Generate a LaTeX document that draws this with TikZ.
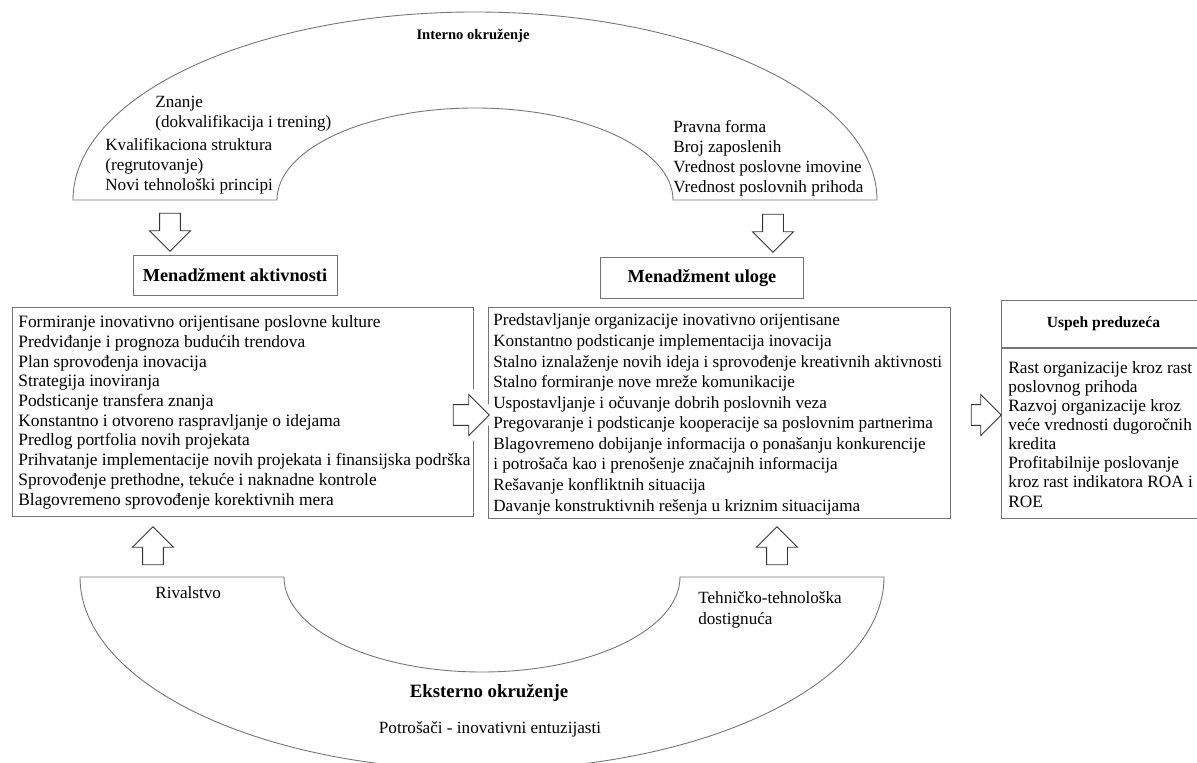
\documentclass[tikz,border=0pt]{standalone}
\usepackage{fontspec}
\setmainfont{Liberation Serif}
\usetikzlibrary{
  shapes.arrows,
  positioning
}
\tikzset{
  line/.style={draw=black!55, line width=0.5pt},
  plain/.style={font=\fontsize{9.75}{11.5}\selectfont, inner sep=0pt, align=left},
  bold/.style={font=\bfseries\fontsize{10.4}{12}\selectfont, inner sep=0pt},
  listbox/.style={line, anchor=north west, inner sep=0pt},
  headbox/.style={line, bold, minimum width=4.08cm, minimum height=0.8cm},
  blockarrow/.style={single arrow, draw=black!80, fill=white, line width=0.5pt,
    inner sep=0pt, text height=0.2cm, text depth=0.2cm,
    single arrow head extend=0.2cm, minimum height=0.76cm}
}

\begin{document}
\begin{tikzpicture}[x=0.02cm, y=-0.02cm]
    \useasboundingbox (0,0) rectangle (1197,763);

    % inner environment (top half ring)
    \draw[line] (73,200) arc[start angle=180, end angle=360, x radius=402, y radius=188]
      -- (673,200) arc[start angle=0, end angle=-180, x radius=198, y radius=92] -- cycle;
    \node[bold, font=\bfseries\fontsize{8.3}{10}\selectfont, anchor=base] (intern) at (473,40) {Interno okruženje};
    \node[plain, anchor=base west] (znanje) at (155,128) {Znanje\\(dokvalifikacija i trening)};
    \node[plain, anchor=base west] (kadar) at (105,191) {Kvalifikaciona struktura\\(regrutovanje)\\Novi tehnološki principi};
    \node[plain, anchor=base west] (forma) at (673,193) {Pravna forma\\Broj zaposlenih\\Vrednost poslovne imovine\\Vrednost poslovnih prihoda};

    % external environment (bottom half ring)
    \draw[line] (80,577) arc[start angle=180, end angle=0, x radius=402, y radius=193]
      -- (680,577) arc[start angle=0, end angle=180, x radius=198, y radius=95] -- cycle;
    \node[plain, anchor=base west] (rival) at (155,598) {Rivalstvo};
    \node[plain, anchor=base west] (tehno) at (698,624) {Tehničko-tehnološka\\dostignuća};
    \node[bold, font=\bfseries\fontsize{10.7}{12}\selectfont, anchor=base] (ekstern) at (489,697) {Eksterno okruženje};
    \node[plain, anchor=base] (potr) at (490,733) {Potrošači - inovativni entuzijasti};

    % headings
    \node[headbox] (akthead) at (235,275) {Menadžment aktivnosti};
    \node[headbox, minimum width=4.06cm, minimum height=0.82cm] (ulhead) at (702,278) {Menadžment uloge};

    % frames of the lists
    \node[listbox, minimum width=9.22cm, minimum height=4.18cm] (aktbox) at (12,307) {};
    \node[listbox, minimum width=9.24cm, minimum height=4.22cm] (ulbox) at (488,307) {};
    \node[line, anchor=north west, minimum width=4.08cm, minimum height=0.94cm,
      font=\bfseries\fontsize{8.85}{10}\selectfont] (uspeh) at (1001,300) {Uspeh preduzeća};
    \node[listbox, anchor=north, below=0pt of uspeh, minimum width=4.08cm, minimum height=3.4cm] (uspbox) {};

    % block arrows
    \node[blockarrow, rotate=-90] (down1) at (170,227) {};
    \node[blockarrow, rotate=-90] (down2) at (773,228) {};
    \node[blockarrow, minimum height=0.72cm, preaction={draw=white, line width=8pt}] (right1) at (466,415) {};
    \node[blockarrow, minimum height=0.6cm] (right2) at (981,415) {};
    \node[blockarrow, rotate=90] (up1) at (153,551) {};
    \node[blockarrow, rotate=90] (up2) at (777,551) {};

    % list texts
    \node[plain, anchor=base west, font=\fontsize{9.9}{11.2}\selectfont] (aktlist) at (18,505) {%
      Formiranje inovativno orijentisane poslovne kulture\\
      Predviđanje i prognoza budućih trendova\\
      Plan sprovođenja inovacija\\
      Strategija inoviranja\\
      Podsticanje transfera znanja\\
      Konstantno i otvoreno raspravljanje o idejama\\
      Predlog portfolia novih projekata\\
      Prihvatanje implementacije novih projekata i finansijska podrška\\
      Sprovođenje prethodne, tekuće i naknadne kontrole\\
      Blagovremeno sprovođenje korektivnih mera};
    \node[plain, anchor=base west, font=\fontsize{9.75}{11.7}\selectfont] (ullist) at (493,511) {%
      Predstavljanje organizacije inovativno orijentisane\\
      Konstantno podsticanje implementacija inovacija\\
      Stalno iznalaženje novih ideja i sprovođenje kreativnih aktivnosti\\
      Stalno formiranje nove mreže komunikacije\\
      Uspostavljanje i očuvanje dobrih poslovnih veza\\
      Pregovaranje i podsticanje kooperacije sa poslovnim partnerima\\
      Blagovremeno dobijanje informacija o ponašanju konkurencije\\
      i potrošača kao i prenošenje značajnih informacija\\
      Rešavanje konfliktnih situacija\\
      Davanje konstruktivnih rešenja u kriznim situacijama};
    \node[plain, anchor=base west, font=\fontsize{9.85}{10.85}\selectfont] (usplist) at (1008,507) {%
      Rast organizacije kroz rast\\
      poslovnog prihoda\\
      Razvoj organizacije kroz\\
      veće vrednosti dugoročnih\\
      kredita\\
      Profitabilnije poslovanje\\
      kroz rast indikatora ROA i\\
      ROE};
\end{tikzpicture}
\end{document}
